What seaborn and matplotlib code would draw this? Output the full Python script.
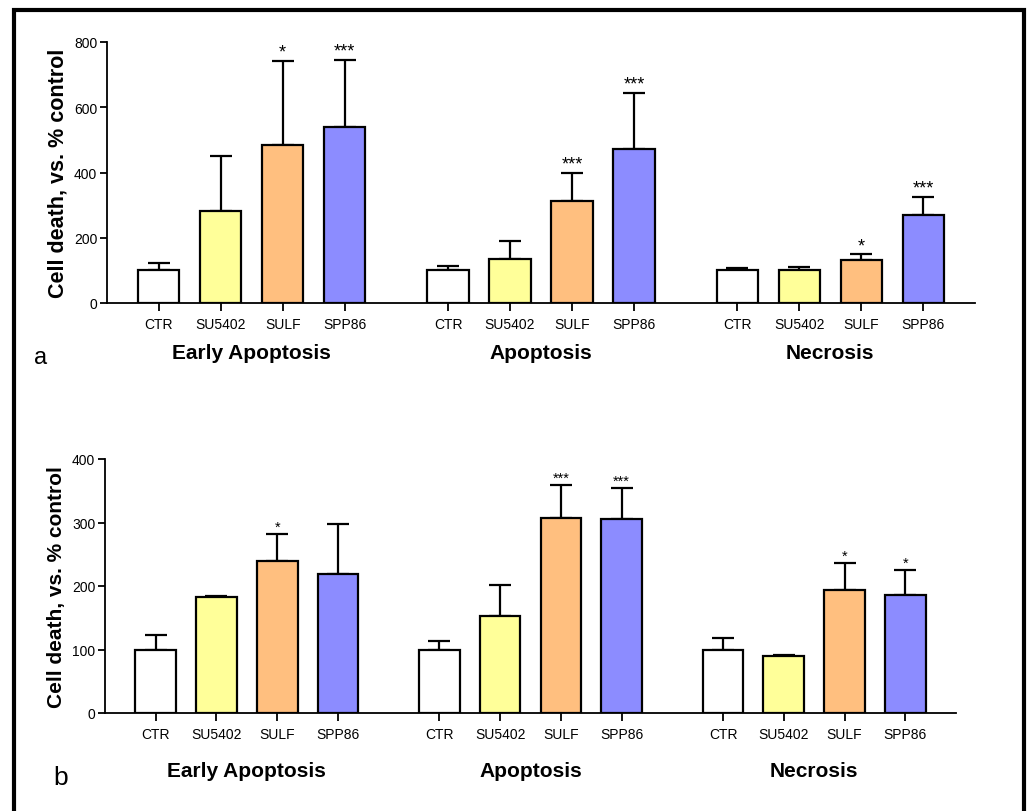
import numpy as np
import pandas as pd
import matplotlib
matplotlib.use("Agg")
import matplotlib.pyplot as plt
import seaborn as sns
from matplotlib.patches import Rectangle
from matplotlib.transforms import blended_transform_factory

# ---------------- data ----------------
treatments = ["CTR", "SU5402", "SULF", "SPP86"]
groups = ["Early Apoptosis", "Apoptosis", "Necrosis"]
colors = ["#FFFFFF", "#FFFF99", "#FFBF7F", "#8C8CFF"]

# panel a
a_early_mean = [100, 282, 485, 540]
a_early_err = [23, 169, 257, 205]
a_apop_mean = [100, 135, 312, 471]
a_apop_err = [14, 55, 87, 174]
a_necr_mean = [100, 101, 132, 270]
a_necr_err = [6, 9, 17, 56]
a_early_sig = ["", "", "*", "***"]
a_apop_sig = ["", "", "***", "***"]
a_necr_sig = ["", "", "*", "***"]

# panel b
b_early_mean = [100, 182, 240, 219]
b_early_err = [23, 3, 42, 78]
b_apop_mean = [100, 152, 307, 306]
b_apop_err = [13, 49, 52, 49]
b_necr_mean = [100, 89, 194, 186]
b_necr_err = [18, 2, 43, 39]
b_early_sig = ["", "", "*", ""]
b_apop_sig = ["", "", "***", "***"]
b_necr_sig = ["", "", "*", "*"]

a_ticks = [0, 200, 400, 600, 800]
b_ticks = [0, 100, 200, 300, 400]

ylabel = "Cell death, vs. % control"

# ---------------- style ----------------
sns.set_style("ticks")
plt.rcParams["font.family"] = ["Liberation Sans", "DejaVu Sans"]
for k in ["text.color", "axes.labelcolor", "xtick.color", "ytick.color",
          "axes.edgecolor"]:
    plt.rcParams[k] = "black"

fig = plt.figure(figsize=(10.27, 8.12), dpi=100)

palette = dict(zip(treatments, colors))


def panel(rect, means, errs, sigs, ticks, star_size, grp_y, lab_size):
    ax = fig.add_axes(rect)
    df = pd.DataFrame({
        "group": np.repeat(groups, len(treatments)),
        "treatment": treatments * len(groups),
        "value": np.concatenate(means),
    })
    sns.barplot(data=df, x="group", y="value", hue="treatment",
                order=groups, hue_order=treatments, palette=palette,
                width=0.857, gap=0.33, edgecolor="black", linewidth=1.6,
                errorbar=None, legend=False, saturation=1, ax=ax, zorder=3)
    bars = sorted(ax.patches, key=lambda p: p.get_x())
    centers = [p.get_x() + p.get_width() / 2 for p in bars]
    vals = np.concatenate(means)
    ers = np.concatenate(errs)
    ax.errorbar(centers, vals, yerr=[np.zeros_like(ers), ers], fmt="none",
                ecolor="black", elinewidth=1.6, capsize=8, capthick=1.6,
                zorder=2)
    for c, v, e, s in zip(centers, vals, ers, np.concatenate(sigs)):
        if s:
            ax.annotate(s, (c, v + e), xytext=(0, 0), textcoords="offset points",
                        ha="center", va="bottom", fontsize=star_size)
    ax.set_xlim(-0.5, 2.5)
    ax.set_ylim(ticks[0], ticks[-1])
    ax.set_yticks(ticks)
    ax.set_xticks(centers)
    ax.set_xticklabels(treatments * len(groups), fontsize=10)
    ax.tick_params(axis="y", labelsize=10, length=5, width=1.3, pad=2)
    ax.tick_params(axis="x", length=6, width=1.3, pad=4)
    ax.set_xlabel("")
    ax.set_ylabel(ylabel, fontsize=lab_size, fontweight="bold", labelpad=4)
    for sp in ["top", "right"]:
        ax.spines[sp].set_visible(False)
    for sp in ["left", "bottom"]:
        ax.spines[sp].set_linewidth(1.3)
    tr = blended_transform_factory(ax.transData, ax.transAxes)
    for gi, g in enumerate(groups):
        gc = np.mean(centers[gi * 4:(gi + 1) * 4])
        ax.text(gc, grp_y, g, transform=tr, ha="center", va="center",
                fontsize=15, fontweight="bold")
    return ax


W, H = 1027, 812
ax_a = panel([107 / W, 1 - 304 / H, (975 - 107) / W, (304 - 43) / H],
             [a_early_mean, a_apop_mean, a_necr_mean],
             [a_early_err, a_apop_err, a_necr_err],
             [a_early_sig, a_apop_sig, a_necr_sig], a_ticks, 13, -0.19, 15.5)
ax_b = panel([105 / W, 1 - 714 / H, (956 - 105) / W, (714 - 460) / H],
             [b_early_mean, b_apop_mean, b_necr_mean],
             [b_early_err, b_apop_err, b_necr_err],
             [b_early_sig, b_apop_sig, b_necr_sig], b_ticks, 10.5, -0.228, 15)

fig.text(41 / W, 1 - 358 / H, "a", fontsize=17, ha="center", va="center")
fig.text(61 / W, 1 - 778 / H, "b", fontsize=19, ha="center", va="center")

fig.add_artist(Rectangle((14 / W, -0.02), (1024 - 14) / W, (1 - 11 / H) + 0.02,
                         transform=fig.transFigure, fill=False,
                         edgecolor="black", linewidth=3))

fig.savefig("out.png", dpi=100)
